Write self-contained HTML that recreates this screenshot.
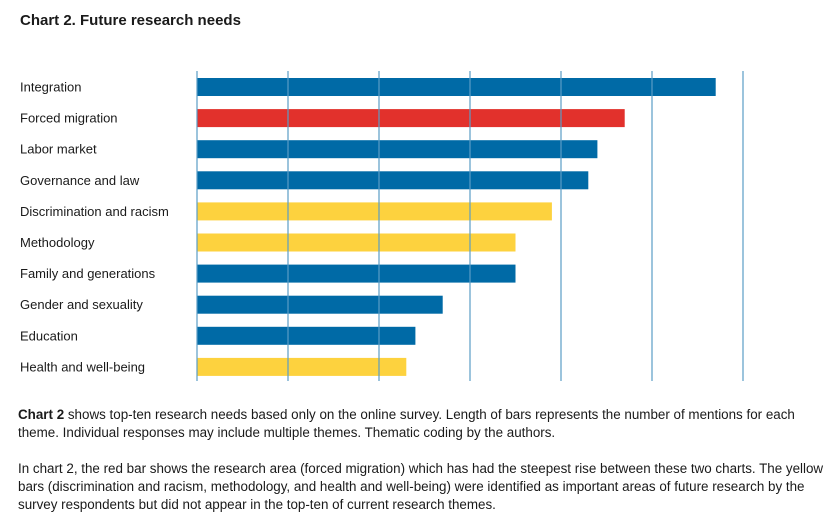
<!DOCTYPE html>
<html><head><meta charset="utf-8"><style>
body{margin:0;width:840px;height:529px;background:#fff;font-family:"Liberation Sans",sans-serif;color:#1a1a1a;overflow:hidden;position:relative}
h1{position:absolute;left:20px;top:12px;margin:0;font-size:15px;font-weight:bold}
.p{position:absolute;left:18px;margin:0;font-size:13.4px;line-height:18px;width:815px}
</style></head><body>
<h1>Chart 2. Future research needs</h1>
<svg id="chart" width="840" height="400" style="position:absolute;left:0;top:0"></svg>
<p class="p" style="top:406px"><b>Chart 2</b> shows top-ten research needs based only on the online survey. Length of bars represents the number of mentions for each theme. Individual responses may include multiple themes. Thematic coding by the authors.</p>
<p class="p" style="top:460px">In chart 2, the red bar shows the research area (forced migration) which has had the steepest rise between these two charts. The yellow bars (discrimination and racism, methodology, and health and well-being) were identified as important areas of future research by the survey respondents but did not appear in the top-ten of current research themes.</p>
<script>
const categories=["Integration","Forced migration","Labor market","Governance and law","Discrimination and racism","Methodology","Family and generations","Gender and sexuality","Education","Health and well-being"];
const values=[57,47,44,43,39,35,35,27,24,23];
const kinds=["blue","red","blue","blue","yellow","yellow","blue","blue","blue","yellow"];
const gridTicks=[0,10,20,30,40,50,60];
const colors={blue:"#006aa6",red:"#e2312c",yellow:"#fdd23e"};
const NS="http://www.w3.org/2000/svg";
const svg=document.getElementById('chart');
const x0=197,pxPer=9.1,yTop=78,step=31.1,bh=18;
const xs=v=>x0+v*pxPer;
const ys=i=>yTop+i*step;
categories.forEach((c,i)=>{
  const r=document.createElementNS(NS,'rect');
  r.setAttribute('x',xs(0));r.setAttribute('y',ys(i));
  r.setAttribute('width',xs(values[i])-xs(0));r.setAttribute('height',bh);
  r.setAttribute('fill',colors[kinds[i]]);
  
  
  svg.appendChild(r);
  const t=document.createElementNS(NS,'text');
  t.setAttribute('x',20);t.setAttribute('y',ys(i)+bh/2+4.5);
  t.setAttribute('font-size','13');t.setAttribute('fill','#1a1a1a');
  t.setAttribute('font-family','Liberation Sans, sans-serif');
  t.textContent=c;
  
  
  svg.appendChild(t);
});
gridTicks.forEach(v=>{
  const l=document.createElementNS(NS,'line');
  l.setAttribute('x1',xs(v));l.setAttribute('x2',xs(v));
  l.setAttribute('y1',71);l.setAttribute('y2',381);
  l.setAttribute('stroke','#5a9cc6');l.setAttribute('stroke-width','1.2');
  
  
  svg.appendChild(l);
});
</script>
</body></html>
